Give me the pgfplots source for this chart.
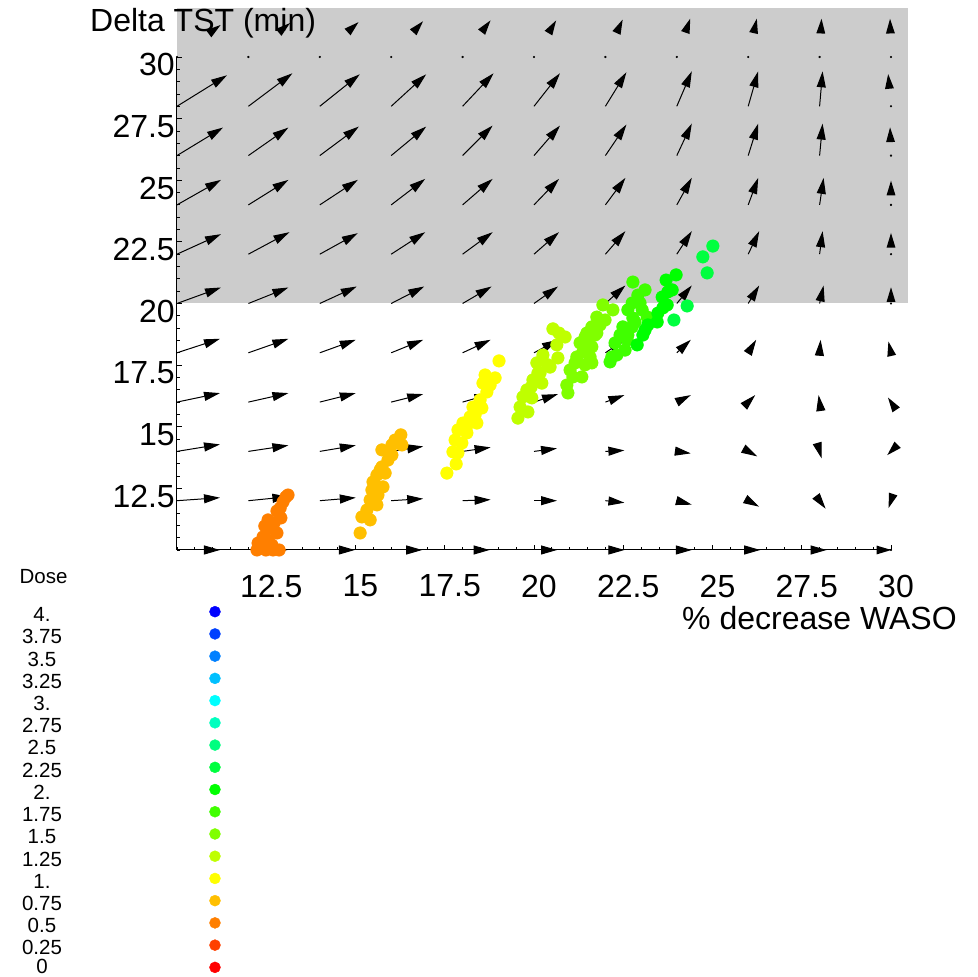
\documentclass[border=0pt]{standalone}
\usepackage{fontspec}
\setmainfont{Liberation Sans}
\usepackage{pgfplots}
\pgfplotsset{compat=1.18}
\usepackage{pgfplotstable}
\usetikzlibrary{arrows.meta}

\newcommand{\bigfont}{\fontsize{32}{38}\selectfont}
\newcommand{\legfont}{\fontsize{20.5}{24}\selectfont}

% vector field (u, v given in pixels: u to the right, v upwards)
\pgfplotstableread{
x y u v
10 10 43 0
12 10 39 0
14 10 35 0
16 10 31 0
18 10 27 0
20 10 23 0
22 10 19 0
24 10 15 0
26 10 12 0
28 10 7 0
10 12 43 3
12 12 40 4
14 12 36 3
16 12 32 2
18 12 28 1
20 12 23 0
22 12 19 -2
24 12 15 -4
26 12 11 -6
28 12 6 -8
10 14 43 7
12 14 40 6
14 14 36 6
16 14 32 5
18 14 28 4
20 14 23 3
22 14 19 1
24 14 14 -2
26 14 9 -5
28 14 2 -7
10 16 43 9
12 16 40 9
14 16 36 9
16 16 32 8
18 16 28 8
20 16 24 8
22 16 19 7
24 16 14 7
26 16 7 7
28 16 -1 7
10 18 43 14
12 18 40 14
14 18 36 13
16 18 32 13
18 18 28 13
20 18 24 13
22 18 19 13
24 18 14 13
26 18 8 13
28 18 1 13
10 20 44 16
12 20 40 16
14 20 37 17
16 20 33 17
18 20 29 17
20 20 24 17
22 20 20 18
24 20 15 18
26 20 11 18
28 20 4 18
10 22 44 20
12 22 41 22
14 22 38 21
16 22 34 22
18 22 30 22
20 22 25 22
22 22 20 23
24 22 15 23
26 22 11 23
28 22 3 23
10 24 44 25
12 24 40 25
14 24 38 25
16 24 34 26
18 24 30 26
20 24 25 26
22 24 20 27
24 24 15 27
26 24 10 27
28 24 4 27
10 26 46 28
12 26 40 28
14 26 39 29
16 26 35 29
18 26 30 30
20 26 26 30
22 26 21 31
24 26 15 32
26 26 10 32
28 26 3 32
10 28 50 31
12 28 44 33
14 28 40 32
16 28 35 32
18 28 31 33
20 28 26 33
22 28 21 34
24 28 15 35
26 28 10 35
28 28 3 35
}\fieldmain

\pgfplotstableread{
x y u v
30 10 2 0
30 12 -3 -9
30 14 -5 -5
30 16 -4 6
30 18 -3 13
30 20 0 18
30 22 0 23
30 24 0 26
30 26 -1 30
30 28 -3 34
30 30 -1 40
10 30 45 33
12 30 43 35
14 30 40 36
16 30 33 37
18 30 29 38
20 30 23 38
22 30 18 39
24 30 14 40
26 30 9 40
28 30 2 40
}\fieldborder

\pgfplotstableread{
x y d
13.11 12.23 0.5
12.97 11.95 0.5
12.80 11.58 0.5
12.91 11.30 0.5
12.55 11.22 0.5
12.46 10.97 0.5
12.80 10.69 0.5
12.41 10.53 0.5
12.27 10.28 0.5
12.66 10.20 0.5
12.24 10.00 0.5
12.69 10.00 0.5
12.49 10.00 0.5
12.38 10.08 0.5
12.55 10.41 0.5
12.61 10.89 0.5
12.72 11.10 0.5
12.89 11.70 0.5
13.05 12.15 0.5
12.86 10.00 0.5
16.27 14.67 0.75
16.02 14.26 0.75
16.30 14.26 0.75
15.74 14.06 0.75
15.91 13.65 0.75
15.74 13.37 0.75
15.60 13.04 0.75
15.83 13.12 0.75
15.49 12.76 0.75
15.77 12.56 0.75
15.46 12.43 0.75
15.63 12.23 0.75
15.41 12.03 0.75
15.60 11.83 0.75
15.32 11.62 0.75
15.18 11.34 0.75
15.41 11.22 0.75
15.13 10.69 0.75
16.11 14.46 0.75
15.69 13.25 0.75
15.55 12.64 0.75
16.02 13.85 0.75
19.02 17.67 1
18.91 16.98 1
18.63 17.10 1
18.57 16.77 1
18.68 16.41 1
18.49 16.09 1
18.29 15.80 1
18.54 15.76 1
18.21 15.40 1
18.40 15.15 1
18.01 15.15 1
17.87 14.87 1
18.12 14.75 1
17.79 14.46 1
17.98 14.34 1
17.73 13.98 1
17.87 13.94 1
17.82 13.49 1
17.56 13.12 1
18.77 16.69 1
18.35 15.48 1
18.10 14.95 1
20.53 18.97 1.25
20.70 18.80 1.25
20.87 18.64 1.25
20.64 18.32 1.25
20.25 17.91 1.25
20.08 17.59 1.25
20.39 17.51 1.25
20.11 17.18 1.25
19.97 16.90 1.25
20.22 16.77 1.25
19.80 16.49 1.25
19.69 16.21 1.25
19.94 16.17 1.25
19.61 15.80 1.25
19.83 15.60 1.25
19.55 15.35 1.25
20.67 17.79 1.25
20.45 17.42 1.25
19.92 16.61 1.25
20.17 17.18 1.25
21.93 19.94 1.5
22.21 19.74 1.5
21.76 19.45 1.5
21.85 19.13 1.5
21.62 19.05 1.5
21.71 18.72 1.5
21.43 18.64 1.5
21.51 18.32 1.5
21.29 18.40 1.5
21.37 18.03 1.5
21.20 17.83 1.5
21.57 17.83 1.5
21.15 17.59 1.5
21.43 17.51 1.5
21.01 17.30 1.5
21.09 17.02 1.5
21.34 17.02 1.5
20.92 16.69 1.5
20.95 16.37 1.5
21.48 18.80 1.5
21.76 18.80 1.5
21.62 18.24 1.5
21.62 17.59 1.5
21.99 19.33 1.5
22.77 20.87 1.75
23.11 20.55 1.75
22.91 20.34 1.75
22.75 20.02 1.75
22.97 20.02 1.75
22.63 19.74 1.75
23.03 19.74 1.75
23.17 19.45 1.75
22.77 19.41 1.75
22.49 19.05 1.75
22.75 19.05 1.75
22.41 18.72 1.75
22.61 18.52 1.75
22.27 18.40 1.75
22.55 18.11 1.75
22.18 17.83 1.75
22.13 17.63 1.75
22.83 19.25 1.75
22.32 17.91 1.75
22.63 18.72 1.75
23.70 20.95 2
23.75 20.47 2
23.59 20.26 2
23.73 19.94 2
23.47 19.61 2
23.45 19.25 2
23.11 18.92 2
23.05 18.72 2
22.89 18.32 2
23.87 20.55 2
23.61 19.82 2
23.19 19.13 2
23.98 21.16 2
25.01 22.33 2.25
24.73 21.89 2.25
24.85 21.24 2.25
24.29 19.90 2.25
23.92 19.33 2.25
}\doses

\pgfplotstableread{
x y d
11.064 7.497 4
11.064 6.595 3.75
11.064 5.693 3.5
11.064 4.792 3.25
11.064 3.890 3
11.064 2.988 2.75
11.064 2.086 2.5
11.064 1.184 2.25
11.064 0.283 2
11.064 -0.619 1.75
11.064 -1.521 1.5
11.064 -2.423 1.25
11.064 -3.325 1
11.064 -4.226 0.75
11.064 -5.128 0.5
11.064 -6.030 0.25
11.064 -6.932 0
}\legenddots

\begin{document}
\begin{tikzpicture}
\begin{axis}[
  x=35.7pt, y=24.65pt,
  xmin=10, xmax=30, ymin=10, ymax=30,
  axis lines=left,
  axis line style={-, line width=1pt, black},
  clip=false, axis on top,
  xtick={12.5,15,17.5,20,22.5,25,27.5,30},
  ytick={12.5,15,17.5,20,22.5,25,27.5,30},
  minor xtick={10,10.5,...,30},
  minor ytick={10,10.5,...,30},
  tick align=inside,
  major tick length=5pt, minor tick length=3pt,
  every tick/.append style={black, line width=0.8pt},
  /pgf/number format/assume math mode=true,
  tick label style={font=\bigfont},
  xticklabel style={anchor=center, yshift=-36pt, xshift=5pt},
  yticklabel style={anchor=east, inner sep=0pt, xshift=-2pt, yshift=-8pt},
  colormap={hues}{rgb255=(255,0,0) rgb255=(255,255,0) rgb255=(0,255,0) rgb255=(0,255,255) rgb255=(0,0,255)},
  point meta min=0, point meta max=4,
]
% shaded region
\addplot[fill=black!20, draw=none] coordinates {(10,20) (30.47,20) (30.47,32) (10,32)} -- cycle;

% data points
\addplot[scatter, only marks, mark=*, mark size=6.3pt, scatter src=explicit,
  scatter/use mapped color={draw=mapped color, fill=mapped color}]
  table[x=x, y=y, meta=d] {\doses};

% vector field
\addplot[black, line width=1pt, -{Triangle[length=16pt, width=9pt]},
  quiver={u={\thisrow{u}/35.7}, v={\thisrow{v}/24.65}}]
  table[x=x, y=y] {\fieldmain};
\addplot[black, line width=1pt, draw opacity=0, fill opacity=1,
  -{Triangle[length=17pt, width=10pt, fill=black]},
  quiver={u={\thisrow{u}/35.7}, v={\thisrow{v}/24.65}}]
  table[x=x, y=y] {\fieldborder};
\addplot[black, only marks, mark=*, mark size=0.9pt] table[x=x, y=y] {\fieldborder};

% legend dots
\addplot[scatter, only marks, mark=*, mark size=5.5pt, scatter src=explicit,
  scatter/use mapped color={draw=mapped color, fill=mapped color}]
  table[x=x, y=y, meta=d] {\legenddots};

% labels
\node[anchor=base west, inner sep=0pt, font=\bigfont] at (axis cs:24.146,6.755) {\% decrease WASO};
\node[anchor=base west, inner sep=0pt, font=\bigfont] at (axis cs:7.563,31.014) {Delta TST (min)};
\node[anchor=base, inner sep=0pt, font=\legfont] at (axis cs:6.261,8.621) {Dose};
\node[anchor=base, inner sep=0pt, font=\legfont] at (axis cs:6.218,7.097) {4.};
\node[anchor=base, inner sep=0pt, font=\legfont] at (axis cs:6.218,6.195) {3.75};
\node[anchor=base, inner sep=0pt, font=\legfont] at (axis cs:6.218,5.293) {3.5};
\node[anchor=base, inner sep=0pt, font=\legfont] at (axis cs:6.218,4.392) {3.25};
\node[anchor=base, inner sep=0pt, font=\legfont] at (axis cs:6.218,3.490) {3.};
\node[anchor=base, inner sep=0pt, font=\legfont] at (axis cs:6.218,2.588) {2.75};
\node[anchor=base, inner sep=0pt, font=\legfont] at (axis cs:6.218,1.686) {2.5};
\node[anchor=base, inner sep=0pt, font=\legfont] at (axis cs:6.218,0.784) {2.25};
\node[anchor=base, inner sep=0pt, font=\legfont] at (axis cs:6.218,-0.117) {2.};
\node[anchor=base, inner sep=0pt, font=\legfont] at (axis cs:6.218,-1.019) {1.75};
\node[anchor=base, inner sep=0pt, font=\legfont] at (axis cs:6.218,-1.921) {1.5};
\node[anchor=base, inner sep=0pt, font=\legfont] at (axis cs:6.218,-2.823) {1.25};
\node[anchor=base, inner sep=0pt, font=\legfont] at (axis cs:6.218,-3.725) {1.};
\node[anchor=base, inner sep=0pt, font=\legfont] at (axis cs:6.218,-4.626) {0.75};
\node[anchor=base, inner sep=0pt, font=\legfont] at (axis cs:6.218,-5.528) {0.5};
\node[anchor=base, inner sep=0pt, font=\legfont] at (axis cs:6.218,-6.430) {0.25};
\node[anchor=base, inner sep=0pt, font=\legfont] at (axis cs:6.218,-7.200) {0};

% page extent
\path (axis cs:5.042,-7.323) rectangle (axis cs:32.409,32.312);
\end{axis}
\end{tikzpicture}
\end{document}
